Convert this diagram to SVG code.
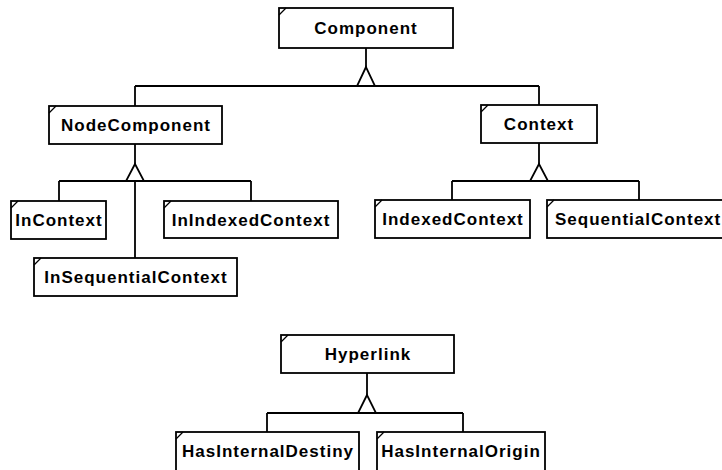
<svg xmlns="http://www.w3.org/2000/svg" width="722" height="470" viewBox="0 0 722 470">
<style>
.box{fill:#fff;stroke:#000;stroke-width:1.8}
.tick{stroke:#000;stroke-width:1.2;fill:none}
.lbl{font-family:"Liberation Sans",Arial,sans-serif;font-weight:bold;font-size:17px;letter-spacing:1px;fill:#000}
.c{text-anchor:middle}
.ln{stroke:#000;stroke-width:1.8;fill:none}
.tri{fill:#fff;stroke:#000;stroke-width:1.8;stroke-linejoin:miter}
</style>
<rect width="722" height="470" fill="#fff"/>
<g id="connectors">
<path class="ln" d="M366,48 V67 M135,86 H539 M135,86 V106 M539,86 V105"/>
<polygon class="tri" points="366,67 357,86 375,86"/>
<path class="ln" d="M135,144 V164 M59,181 H251 M59,181 V201 M251,181 V201 M135,181 V258"/>
<polygon class="tri" points="135,164 126,181 144,181"/>
<path class="ln" d="M539,143 V164 M452,181 H639 M452,181 V200 M639,181 V200"/>
<polygon class="tri" points="539,164 530,181 548,181"/>
<path class="ln" d="M367,373 V395 M267,413 H463 M267,413 V432 M463,413 V432"/>
<polygon class="tri" points="367,395 358,413 376,413"/>
</g>
<g id="Component"><rect class="box" x="279" y="8" width="174" height="40"/><path class="tick" d="M279,15 L286,8"/><text class="lbl c" x="366" y="34">Component</text></g>
<g id="NodeComponent"><rect class="box" x="49" y="106" width="173" height="38"/><path class="tick" d="M49,113 L56,106"/><text class="lbl c" x="136" y="131">NodeComponent</text></g>
<g id="Context"><rect class="box" x="481" y="105" width="116" height="38"/><path class="tick" d="M481,112 L488,105"/><text class="lbl c" x="539" y="130">Context</text></g>
<g id="InContext"><rect class="box" x="11" y="201" width="95" height="38"/><path class="tick" d="M11,208 L18,201"/><text class="lbl c" x="59" y="226">InContext</text></g>
<g id="InIndexedContext"><rect class="box" x="164" y="201" width="174" height="37"/><path class="tick" d="M164,208 L171,201"/><text class="lbl c" x="251" y="226">InIndexedContext</text></g>
<g id="InSequentialContext"><rect class="box" x="34" y="258" width="203" height="38"/><path class="tick" d="M34,265 L41,258"/><text class="lbl c" x="136" y="283">InSequentialContext</text></g>
<g id="IndexedContext"><rect class="box" x="375" y="200" width="155" height="38"/><path class="tick" d="M375,207 L382,200"/><text class="lbl c" x="453" y="225">IndexedContext</text></g>
<g id="SequentialContext"><rect class="box" x="547" y="200" width="185" height="38"/><path class="tick" d="M547,207 L554,200"/><text class="lbl" x="555" y="225">SequentialContext</text></g>
<g id="Hyperlink"><rect class="box" x="281" y="335" width="173" height="38"/><path class="tick" d="M281,342 L288,335"/><text class="lbl c" x="368" y="360">Hyperlink</text></g>
<g id="HasInternalDestiny"><rect class="box" x="176" y="432" width="183" height="44"/><path class="tick" d="M176,439 L183,432"/><text class="lbl c" x="268" y="457">HasInternalDestiny</text></g>
<g id="HasInternalOrigin"><rect class="box" x="377" y="432" width="168" height="44"/><path class="tick" d="M377,439 L384,432"/><text class="lbl c" x="461" y="457">HasInternalOrigin</text></g>
</svg>
